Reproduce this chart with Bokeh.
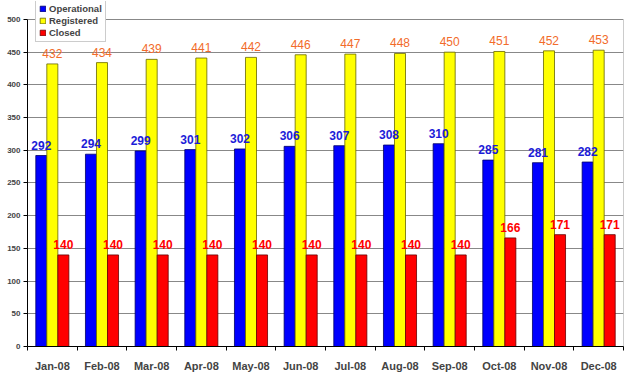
from bokeh.plotting import figure
from bokeh.models import ColumnDataSource, FixedTicker, Legend, LegendItem, Range1d
from bokeh.core.properties import value
from bokeh.embed import file_html
from bokeh.resources import INLINE

months = ["Jan-08", "Feb-08", "Mar-08", "Apr-08", "May-08", "Jun-08",
          "Jul-08", "Aug-08", "Sep-08", "Oct-08", "Nov-08", "Dec-08"]
operational = [292, 294, 299, 301, 302, 306, 307, 308, 310, 285, 281, 282]
registered = [432, 434, 439, 441, 442, 446, 447, 448, 450, 451, 452, 453]
closed = [140, 140, 140, 140, 140, 140, 140, 140, 140, 166, 171, 171]
y_ticks = [0, 50, 100, 150, 200, 250, 300, 350, 400, 450, 500]

centers = [i + 0.5 for i in range(len(months))]
bw = 0.222
y_max = y_ticks[-1]

# extra headroom above 500 so the legend (which overlaps the top edge) is not clipped
p = figure(width=630, height=374, output_backend="svg", toolbar_location=None,
           x_range=Range1d(0, len(months)), y_range=Range1d(0, y_max * 346 / 328),
           min_border_left=27, min_border_right=7, min_border_top=1, min_border_bottom=27)
p.background_fill_color = "white"
p.border_fill_color = "white"
p.outline_line_color = None

# right border of plot area (0..500)
p.segment(x0=[len(months)], y0=[0], x1=[len(months)], y1=[y_max],
          line_color="#999999", line_width=1)

series = [
    ("Operational", operational, -bw, "#0000FF", "#000066", "#1C1CD8", "bold"),
    ("Registered", registered, 0.0, "#FFFF00", "#666600", "#F26B2A", "normal"),
    ("Closed", closed, bw, "#FF0000", "#660000", "#FF0000", "bold"),
]

items = []
sources = []
for name, vals, off, fill, line, lab_col, weight in series:
    src = ColumnDataSource(dict(x=[c + off for c in centers], top=vals,
                                lab=[str(v) for v in vals]))
    sources.append(src)
    r = p.vbar(x="x", top="top", bottom=0, width=bw, source=src,
               fill_color=fill, line_color=line, line_width=0.8)
    items.append(LegendItem(label=name, renderers=[r]))

for src, (name, vals, off, fill, line, lab_col, weight) in zip(sources, series):
    p.text(x="x", y="top", text="lab", source=src, text_align="center",
           text_baseline="bottom", y_offset=-6, text_color=lab_col,
           text_font=value("Liberation Sans"), text_font_size="12px",
           text_font_style=weight)

legend = Legend(items=items, location=(8, 304), label_text_font_size="9.5px",
                label_text_font_style="bold", label_text_font="Liberation Sans",
                glyph_width=7, glyph_height=7, label_height=10, spacing=1,
                padding=3, margin=0, label_standoff=3,
                border_line_color="#999999", background_fill_alpha=1)
p.add_layout(legend, "center")

# y axis
p.yaxis.ticker = FixedTicker(ticks=y_ticks)
p.yaxis.bounds = (0, y_max)
p.yaxis.axis_line_color = "black"
p.yaxis.major_tick_line_color = "black"
p.yaxis.major_tick_out = 4
p.yaxis.major_tick_in = 0
p.yaxis.minor_tick_line_color = None
p.yaxis.major_label_standoff = 3
p.yaxis.major_label_text_font = "Liberation Sans"
p.yaxis.major_label_text_font_size = "8px"
p.yaxis.major_label_text_font_style = "bold"

# x axis
p.xaxis.ticker = FixedTicker(ticks=centers, minor_ticks=list(range(len(months) + 1)))
p.xaxis.major_label_overrides = {c: m for c, m in zip(centers, months)}
p.xaxis.axis_line_color = "black"
p.xaxis.major_tick_line_color = None
p.xaxis.major_tick_out = 4
p.xaxis.major_tick_in = 0
p.xaxis.minor_tick_line_color = "black"
p.xaxis.minor_tick_out = 4
p.xaxis.minor_tick_in = 0
p.xaxis.major_label_standoff = 9
p.xaxis.major_label_text_font = "Liberation Sans"
p.xaxis.major_label_text_font_size = "11px"
p.xaxis.major_label_text_font_style = "bold"

p.xgrid.grid_line_color = None
p.ygrid.ticker = FixedTicker(ticks=y_ticks)
p.ygrid.grid_line_color = "#888888"
p.ygrid.grid_line_width = 1

open("out.html", "w").write(file_html(p, INLINE))
